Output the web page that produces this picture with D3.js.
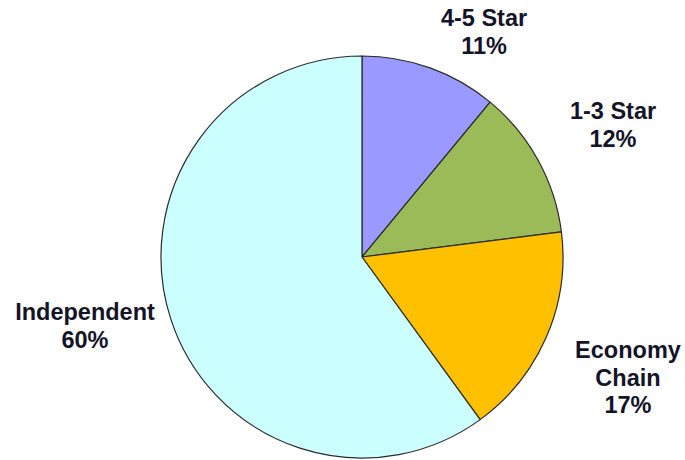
<!DOCTYPE html>
<html>
<head>
<meta charset="utf-8">
<script src="https://cdn.jsdelivr.net/npm/d3@7"></script>
<style>
  html, body { margin: 0; padding: 0; background: #fff; }
  svg { display: block; }
  .label { font-family: "Liberation Sans", Arial, sans-serif; font-weight: bold; font-size: 23.5px; fill: #141428; }
</style>
</head>
<body>
<div id="chart"></div>
<script>
// chart data
const categories = ['4-5 Star', '1-3 Star', 'Economy Chain', 'Independent'];
const shares = [11, 12, 17, 60];
// label lines as shown in the picture
const labelLines = [['4-5 Star'], ['1-3 Star'], ['Economy', 'Chain'], ['Independent']];

// layout
const width = 685, height = 460;
const cx = 362, cy = 257, radius = 201;
const colors = ['#9999ff', '#9bbb59', '#ffc000', '#ccffff'];
// label centre (x) and first baseline (y), relative to pie centre
const labelPos = [[122, -231], [251, -138], [266, 101], [-277, 63]];
const lineGap = 27.5;

const svg = d3.select('#chart').append('svg')
  .attr('width', width)
  .attr('height', height);

const g = svg.append('g').attr('transform', `translate(${cx},${cy})`);

const data = categories.map((c, i) => ({ name: c, value: shares[i], idx: i }));

const pie = d3.pie().value(d => d.value).sort(null);
const arc = d3.arc().innerRadius(0).outerRadius(radius);

g.selectAll('path.slice')
  .data(pie(data))
  .enter()
  .append('path')
  .attr('class', 'slice')
  .attr('d', arc)
  .style('fill', d => colors[d.data.idx])
  .style('stroke', '#2a2a2a')
  .style('stroke-width', 1.2)
  .style('stroke-linejoin', 'round');

// labels: name lines then percentage
const labels = g.selectAll('text.label')
  .data(data)
  .enter()
  .append('text')
  .attr('class', 'label')
  .attr('text-anchor', 'middle')
  .attr('x', d => labelPos[d.idx][0])
  .attr('y', d => labelPos[d.idx][1]);

labels.each(function (d) {
  const t = d3.select(this);
  const lines = labelLines[d.idx].concat([d.value + '%']);
  lines.forEach((ln, j) => {
    t.append('tspan')
      .attr('x', labelPos[d.idx][0])
      .attr('dy', j === 0 ? 0 : lineGap)
      .text(ln);
  });
});
</script>
</body>
</html>
